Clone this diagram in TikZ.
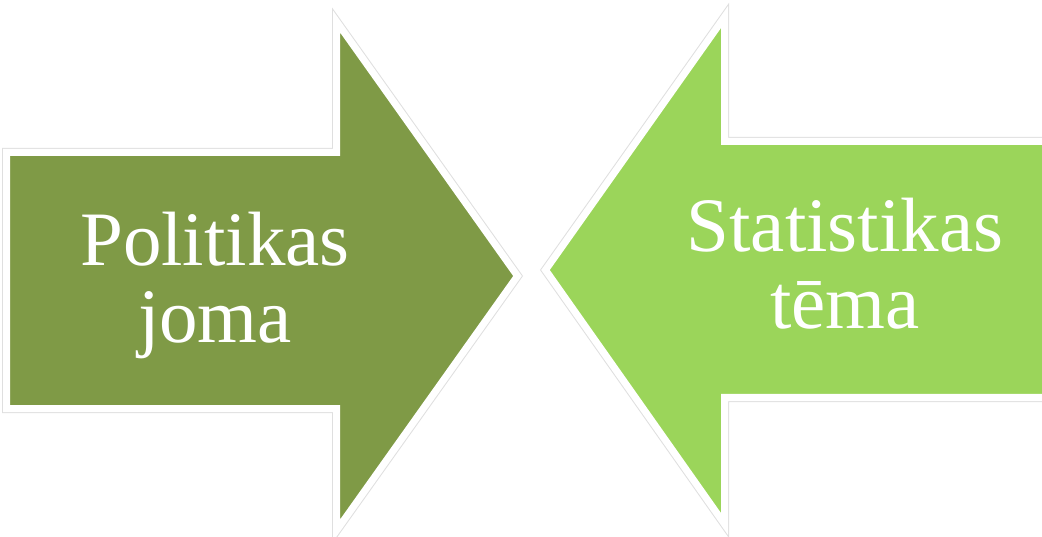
\documentclass[tikz,border=0pt]{standalone}
\usepackage{fontspec}
\setmainfont{Liberation Serif}
\usepackage{tikz}
\definecolor{olivegreen}{HTML}{7F9A46}
\definecolor{lightgreen}{HTML}{9BD55A}
\tikzset{
  glowedge/.style={draw=gray!25, line width=9pt, line join=miter},
  arrowbody/.style={preaction={glowedge}, draw=white, line width=7pt,
    line join=miter, fill=#1},
  arrowtext/.style={text=white, align=center, inner sep=0pt,
    font=\fontsize{77}{77}\selectfont}
}
\begin{document}
\begin{tikzpicture}[x=1pt,y=-1pt]
    \useasboundingbox (0,0) rectangle (1042,537);
    % left arrow
    \path[arrowbody=olivegreen] (6.5,152.5) -- (336.5,152.5) -- (336.5,21.5)
        -- (517.5,276) -- (336.5,530.5) -- (336.5,408.5)
        -- (6.5,408.5) -- cycle;
    % right arrow
    \path[arrowbody=lightgreen] (1060,141.5) -- (724.5,141.5) -- (724.5,17)
        -- (545.5,270) -- (724.5,524) -- (724.5,397.5)
        -- (1060,397.5) -- cycle;
    \node[arrowtext] (politika) at (215,285) {Politikas\\joma};
    \node[arrowtext] (statistika) at (845,264) {Statistikas\\tēma};
\end{tikzpicture}
\end{document}
